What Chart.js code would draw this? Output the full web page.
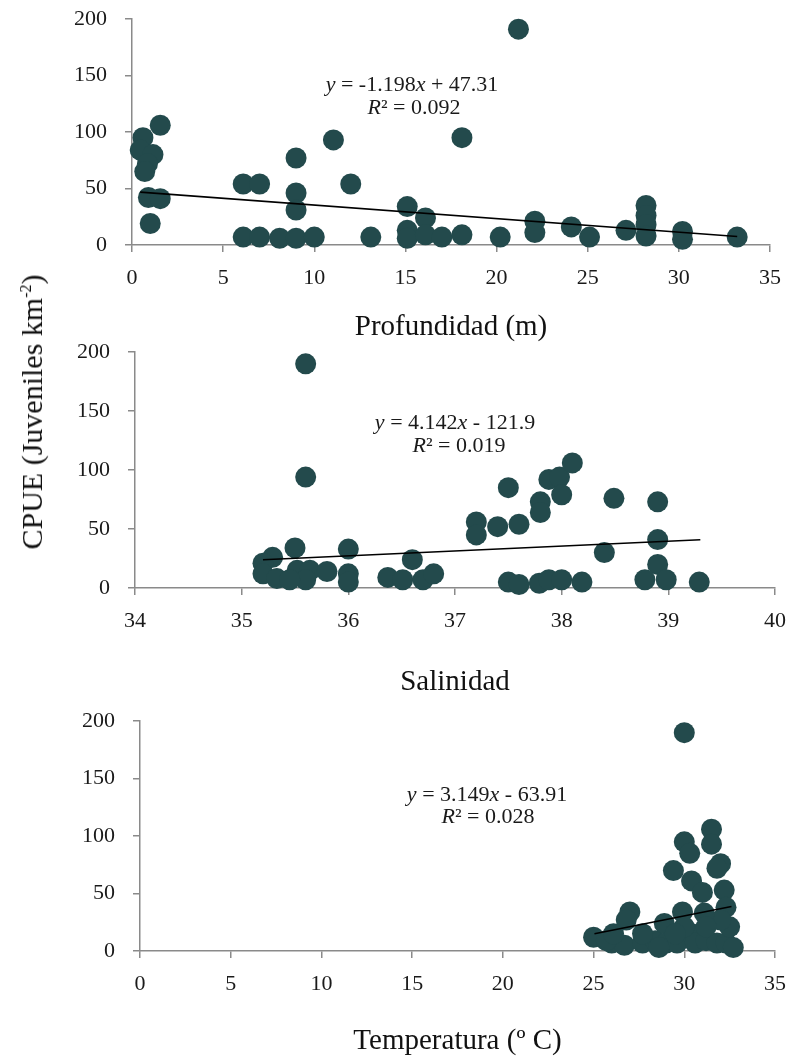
<!DOCTYPE html>
<html>
<head>
<meta charset="utf-8">
<title>CPUE juveniles</title>
<script src="https://cdn.jsdelivr.net/npm/chart.js@4.4.1/dist/chart.umd.min.js"></script>
<style>
  body { margin: 0; background: #fff; }
  #wrap { position: relative; width: 799px; height: 1059px; overflow: hidden; }
  #wrap canvas { position: absolute; left: 0; }
  #ylab {
    position: absolute; left: 32px; top: 412px;
    transform: translate(-50%, -50%) rotate(-90deg);
    white-space: nowrap; font: 30px "Liberation Serif", serif; color: #111;
  }
  #ylab sup { font-size: 16px; vertical-align: 11px; line-height: 0; }
</style>
</head>
<body>
<div id="wrap">
  <canvas id="cDepth" width="799" height="365" style="top:-15px"></canvas>
  <canvas id="cSal" width="799" height="390" style="top:320px"></canvas>
  <canvas id="cTemp" width="799" height="369" style="top:690px"></canvas>
  <div id="ylab">CPUE (Juveniles km<sup>-2</sup>)</div>
</div>
<script>
// Profundidad (m) vs CPUE
const depthX = [0.6, 1.55, 0.45, 1.15, 0.85, 0.7, 0.9, 1.55, 1.0,
  6.1, 7.0, 9.0, 9.0, 9.0, 11.05, 12.0,
  6.1, 7.0, 8.1, 9.0, 10.0, 13.1,
  15.1, 16.1, 15.1, 15.1, 16.1, 17.0,
  21.2, 18.1, 18.1, 20.2, 22.1, 22.1, 24.1, 25.1, 27.1,
  28.2, 28.2, 28.2, 28.2, 30.2, 30.2, 33.2];
const depthY = [95, 106, 84, 80, 72, 65, 42, 41, 19,
  54, 54, 77, 46, 31, 93, 54,
  7, 7, 6, 6, 7, 7,
  34, 24, 13, 6, 9, 7,
  191, 95, 9, 7, 21, 11, 16, 7, 13,
  35, 26, 18, 8, 12, 5, 7];

// Salinidad vs CPUE
const salX = [35.6, 35.6, 35.5, 36.0, 35.29, 35.2, 36.6, 35.2, 35.33, 35.52,
  35.64, 35.8, 36.0, 36.0, 35.6, 35.45, 36.37, 36.51, 36.7, 36.8,
  37.2, 37.2, 37.4, 37.6, 37.5, 37.8, 37.8, 37.88, 37.98, 38.1,
  38.0, 38.49, 38.9, 38.9, 38.4, 38.9, 38.78, 38.98, 39.29, 37.5,
  37.6, 37.79, 37.88, 38.0, 38.19];
const salY = [190, 94, 34, 33, 26, 21, 24, 12, 8, 15,
  15, 14, 12, 5, 7, 7, 9, 7, 7, 12,
  56, 45, 52, 54, 85, 73, 64, 92, 94, 106,
  79, 76, 73, 41, 30, 20, 7, 7, 5, 5,
  3, 4, 7, 7, 5];

// Temperatura (º C) vs CPUE
const tempX = [30.0, 31.5, 31.5, 32.0, 31.8, 30.0, 30.3, 29.4, 30.4, 31.0,
  32.2, 32.3, 29.9, 27.0, 26.8, 25.0, 26.0, 26.7, 27.7, 28.4,
  28.9, 29.0, 29.6, 30.4, 30.6, 31.2, 31.8, 32.3, 32.5, 32.0,
  31.1, 31.2, 30.0, 29.5, 32.7, 28.6, 25.7, 27.7, 26.1];
const tempY = [190, 106, 93, 76, 72, 95, 85, 70, 61, 51,
  53, 38, 34, 34, 27, 12, 7, 5, 7, 9,
  24, 7, 7, 15, 7, 9, 7, 7, 21, 27,
  33, 21, 21, 15, 3, 3, 9, 15, 15];

const cpueTicks = [0, 50, 100, 150, 200];
const depthTicks = [0, 5, 10, 15, 20, 25, 30, 35];
const salTicks = [34, 35, 36, 37, 38, 39, 40];
const tempTicks = [0, 5, 10, 15, 20, 25, 30, 35];

// linear fits: slope, intercept, R², x range of the drawn line
const fitSlope = [-1.198, 4.142, 3.149];
const fitIntercept = [47.31, -121.9, -63.91];
const fitR2 = ['0.092', '0.019', '0.028'];
const fitFrom = [0.45, 35.2, 25.05];
const fitTo = [33.2, 39.3, 32.6];

const DOT = '#234a4c';
const AXIS = '#8a8a8a';
const SERIF = '"Liberation Serif", "Times New Roman", serif';

// draws "y = ax + b" and "R² = ..." with italic variables
const eqPlugin = {
  id: 'eqLabel',
  afterDatasetsDraw(chart, args, o) {
    const ctx = chart.ctx;
    const top = o.canvasTop;
    const m = fitSlope[o.i], b = fitIntercept[o.i];
    const line1 = [['y', true], [' = ', false], [String(m), false], ['x', true],
      [b < 0 ? ' - ' : ' + ', false], [String(Math.abs(b)), false]];
    const line2 = [['R', true], ['² = ', false], [fitR2[o.i], false]];
    const drawRich = (parts, cx, cy) => {
      ctx.save();
      ctx.textBaseline = 'middle';
      ctx.fillStyle = '#1a1a1a';
      let w = 0;
      parts.forEach(p => {
        ctx.font = (p[1] ? 'italic ' : '') + o.size + 'px ' + SERIF;
        w += ctx.measureText(p[0]).width;
      });
      let x = cx - w / 2;
      parts.forEach(p => {
        ctx.font = (p[1] ? 'italic ' : '') + o.size + 'px ' + SERIF;
        ctx.fillText(p[0], x, cy);
        x += ctx.measureText(p[0]).width;
      });
      ctx.restore();
    };
    drawRich(line1, o.eq[0], o.eq[1] - top);
    drawRich(line2, o.r2[0], o.r2[1] - top);
  }
};

function makePanel(id, i, xs, ys, xTicks, xTitle, box) {
  const pts = xs.map((x, k) => ({ x: x, y: ys[k] }));
  const x0 = fitFrom[i], x1 = fitTo[i];
  const fit = [
    { x: x0, y: fitSlope[i] * x0 + fitIntercept[i] },
    { x: x1, y: fitSlope[i] * x1 + fitIntercept[i] }
  ];
  const tickFont = { family: SERIF, size: 22 };
  return new Chart(document.getElementById(id), {
    type: 'scatter',
    data: {
      datasets: [
        { type: 'line', data: fit, borderColor: '#000', borderWidth: 1.6,
          pointRadius: 0, fill: false, clip: false },
        { data: pts, backgroundColor: DOT, borderWidth: 0,
          pointRadius: 10.5, pointHoverRadius: 10.5, clip: false }
      ]
    },
    options: {
      responsive: false,
      animation: false,
      events: [],
      layout: { padding: { top: box.top, right: box.right, left: 0, bottom: 0 } },
      plugins: {
        legend: { display: false },
        tooltip: { enabled: false },
        eqLabel: { i: i, canvasTop: box.canvasTop, eq: box.eq, r2: box.r2, size: 22 }
      },
      scales: {
        x: {
          type: 'linear',
          min: xTicks[0], max: xTicks[xTicks.length - 1],
          afterBuildTicks: s => { s.ticks = xTicks.map(v => ({ value: v })); },
          afterFit: s => { s.height = box.xHeight; },
          border: { color: AXIS, width: 1.5 },
          grid: { drawOnChartArea: false, drawTicks: true, tickLength: 7, color: AXIS, lineWidth: 1.5 },
          ticks: { font: tickFont, color: '#1a1a1a', padding: 13, maxRotation: 0 },
          title: { display: true, text: xTitle, font: { family: SERIF, size: 29 },
            color: '#111', padding: { top: 0, bottom: box.titlePad } }
        },
        y: {
          min: 0, max: 200,
          afterBuildTicks: s => { s.ticks = cpueTicks.map(v => ({ value: v })); },
          afterFit: s => { s.width = box.left; },
          border: { color: AXIS, width: 1.5 },
          grid: { drawOnChartArea: false, drawTicks: true, tickLength: 7, color: AXIS, lineWidth: 1.5 },
          ticks: { font: tickFont, color: '#1a1a1a', padding: 18 }
        }
      }
    },
    plugins: [eqPlugin]
  });
}

makePanel('cDepth', 0, depthX, depthY, depthTicks, 'Profundidad (m)',
  { canvasTop: -15, top: 34, right: 29, left: 132, xHeight: 105, titlePad: 5,
    eq: [412, 85], r2: [414, 108] });
makePanel('cSal', 1, salX, salY, salTicks, 'Salinidad',
  { canvasTop: 320, top: 32, right: 12, left: 135, xHeight: 122, titlePad: 10,
    eq: [455, 423], r2: [459, 446] });
makePanel('cTemp', 2, tempX, tempY, tempTicks, 'Temperatura (º C)',
  { canvasTop: 690, top: 30, right: 17, left: 140, xHeight: 108, titlePad: 0,
    eq: [487, 795], r2: [488, 817] });
</script>
</body>
</html>
